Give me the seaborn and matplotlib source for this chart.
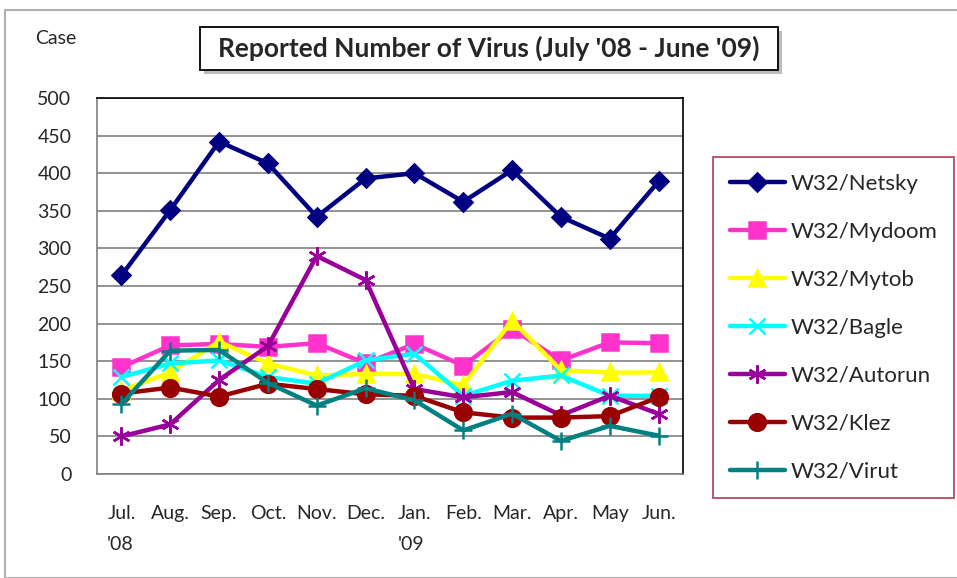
import matplotlib
matplotlib.use("Agg")
import matplotlib.pyplot as plt
import seaborn as sns
import pandas as pd
from matplotlib.patches import Rectangle

months = ["Jul.\n'08", "Aug.", "Sep.", "Oct.", "Nov.", "Dec.", "Jan.\n'09",
          "Feb.", "Mar.", "Apr.", "May", "Jun."]
netsky  = [264, 351, 442, 413, 342, 393, 400, 362, 404, 342, 313, 389]
mydoom  = [142, 171, 173, 169, 174, 147, 173, 144, 193, 151, 175, 174]
mytob   = [111, 135, 176, 147, 131, 133, 133, 118, 204, 138, 135, 135]
bagle   = [129, 147, 151, 129, 120, 151, 160, 104, 124, 131, 104, 104]
autorun = [50, 66, 125, 170, 290, 258, 113, 102, 109, 78, 104, 80]
klez    = [107, 115, 103, 120, 113, 106, 104, 82, 75, 75, 77, 102]
virut   = [93, 164, 165, 121, 91, 114, 98, 58, 80, 44, 64, 51]

names = ["W32/Netsky", "W32/Mydoom", "W32/Mytob", "W32/Bagle",
         "W32/Autorun", "W32/Klez", "W32/Virut"]
series = [netsky, mydoom, mytob, bagle, autorun, klez, virut]
colors = ["#000080", "#FF33CC", "#FFFF00", "#00FFFF", "#990099", "#990000", "#008080"]
markers = ["D", "s", "^", "x", (6, 2, 0), "o", "+"]
msizes = [9, 11, 11, 11, 13, 12, 13]

rows = []
for n, s in zip(names, series):
    for i, v in enumerate(s):
        rows.append({"month": i, "virus": n, "cases": v})
df = pd.DataFrame(rows)

sns.set_style("white")
plt.rcParams["font.family"] = ["Lato", "DejaVu Sans"]

fig = plt.figure(figsize=(9.57, 5.78), dpi=100)
ax = fig.add_axes([97/957, 1-474/578, (683-97)/957, (474-98)/578])

for n, c, m, ms in zip(names, colors, markers, msizes):
    sub = df[df["virus"] == n]
    sns.lineplot(data=sub, x="month", y="cases", ax=ax, color=c, lw=3.2,
                 marker=m, markersize=ms, markeredgecolor=c, markeredgewidth=1.8,
                 label=n)

ax.set_xlim(-0.5, 11.5)
ax.set_ylim(0, 500)
ax.set_yticks(range(0, 501, 50))
ax.set_xticks(range(12))
ax.set_xticklabels(months, fontsize=14, ha="center", multialignment="left",
                   linespacing=2.0, va="top")
ax.set_xticks([i - 0.5 for i in range(13)], minor=True)
ax.tick_params(axis="x", which="major", length=0, pad=22)
ax.tick_params(axis="x", which="minor", length=6, width=1, color="#808080", direction="out")
ax.tick_params(axis="y", length=6.5, width=1, color="#808080", direction="out",
               labelsize=14, pad=12)
ax.set_xlabel("")
ax.set_ylabel("")
ax.yaxis.grid(True, color="#808080", lw=1.2)
ax.set_axisbelow(True)
for side in ["left", "bottom"]:
    ax.spines[side].set_color("#808080")
    ax.spines[side].set_linewidth(1.2)
for side in ["top", "right"]:
    ax.spines[side].set_color("#000000")
    ax.spines[side].set_linewidth(1.2)

leg = ax.legend(loc="upper left", bbox_to_anchor=(713/957, 1-157/578),
                bbox_transform=fig.transFigure, fontsize=16, frameon=True,
                fancybox=False, edgecolor="#A02040", labelspacing=1.26,
                handlelength=2.5, handletextpad=0.25, borderpad=0.75,
                borderaxespad=0)
leg.get_frame().set_linewidth(1.3)

# outer chart border
fig.patches.append(Rectangle((5/957, 0), 1, 1-10/578, transform=fig.transFigure,
                             fill=False, edgecolor="#B0B0B0", lw=1.5))

fig.text(35/957, 1-38/578, "Case", fontsize=14, va="center", ha="left")

# title box with shadow
tx, ty, tw, th = 200/957, 1-70/578, (778-200)/957, 43/578
fig.patches.append(Rectangle((tx + 4/957, ty - 4/578), tw, th, transform=fig.transFigure,
                             facecolor="#909090", edgecolor="none", alpha=0.6))
fig.patches.append(Rectangle((tx, ty), tw, th, transform=fig.transFigure,
                             facecolor="white", edgecolor="black", lw=1.3))
fig.text(tx + tw/2, ty + th/2, "Reported Number of Virus (July '08 - June '09)",
         fontsize=19, fontweight="bold", ha="center", va="center")

fig.savefig("out.png", dpi=100)
